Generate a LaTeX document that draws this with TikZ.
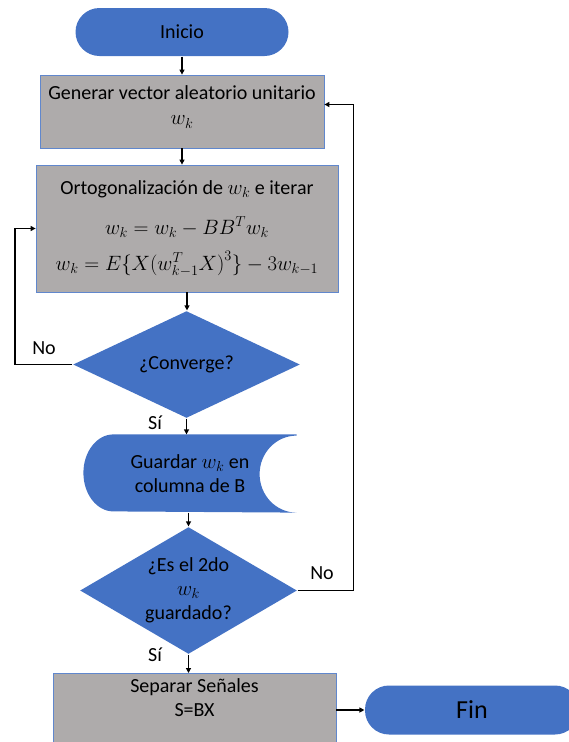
\documentclass[tikz,border=0pt]{standalone}
\usepackage{fontspec}
\setmainfont{Carlito}
\usetikzlibrary{arrows.meta, positioning, shapes.geometric, backgrounds}

\definecolor{ofblue}{RGB}{68,114,196}
\definecolor{ofgray}{RGB}{174,171,171}

\begin{document}
\begin{tikzpicture}[
    x=1pt, y=1pt,
    >={Triangle[length=5pt,width=5pt]}, line width=1.2pt,
    every node/.style={font=\fontsize{20}{24}\selectfont, text=black},
    term/.style={rectangle, rounded corners=24pt, fill=ofblue, minimum width=213pt, minimum height=48pt},
    proc/.style={rectangle, draw=ofblue!85, line width=0.8pt, fill=ofgray, align=center, inner sep=0pt},
    dec/.style={diamond, fill=ofblue, align=center, inner sep=0pt},
    stored/.style={rectangle, align=center, inner sep=0pt, minimum width=212pt, minimum height=77pt}
]
\useasboundingbox (0,0) rectangle (569,-742);
\clip (0,0) rectangle (569,-742);

\node [term] (inicio) at (182,-32) {Inicio};
\node [proc, minimum width=284pt, minimum height=73pt, text depth=12pt] (gen) at (182,-111.5)
    {Generar vector aleatorio unitario\\[1pt]$w_k$};
\node [proc, minimum width=302pt, minimum height=127pt] (orto) at (187,-228.5)
    {Ortogonalización de $w_k$ e iterar\\[16pt]
     $w_k = w_k - BB^Tw_k$\\[12pt]
     $w_k = E\Bigl\{X\bigl(w_{k-1}^TX\bigr)^3\Bigr\} - 3w_{k-1}$};
\node [dec, aspect=2.1, minimum width=227pt, minimum height=107pt] (conv) at (186.5,-364.5) {¿Converge?};
\node [stored] (guardar) at (190,-473.5) {Guardar $w_k$ en\\columna de B};
\node [dec, aspect=1.7, minimum width=217pt, minimum height=127pt] (segundo) at (188.5,-590.5)
    {¿Es el 2do\\$w_k$\\guardado?};
\node [proc, minimum width=283pt, anchor=north, inner ysep=5pt, text depth=60pt] (separar) at (194.5,-673)
    {Separar Señales\\S=BX};
\node [term, minimum width=214pt, minimum height=49pt, font=\fontsize{26}{30}\selectfont] (fin) at (472,-710) {Fin};

% stored data shape behind its text
\begin{scope}[on background layer]
\fill [ofblue] (guardar.north east) -- ([xshift=30pt]guardar.north west)
    arc [start angle=90, end angle=270, x radius=30pt, y radius=38.5pt]
    -- (guardar.south east)
    arc [start angle=270, end angle=90, x radius=37pt, y radius=38.5pt] -- cycle;
\end{scope}

\draw [->] (inicio) -- (gen);
\draw [->] (gen) -- (gen.south |- orto.north);
\draw [->] (orto.south) -- (orto.south |- conv.north);
\draw [->] (conv.south) -- (conv.south |- guardar.north);
\draw [->] (segundo.north |- guardar.south) -- (segundo.north);
\draw [->] (segundo.south) -- (segundo.south |- separar.north);
\draw [->] (separar.east |- fin.west) -- (fin.west);

% loops back
\draw [->] (conv.west) -- ++(-57.5,0) |- (orto.west);
\draw [->] (segundo.east) -- ++(56,0) |- ([yshift=7pt]gen.east);

\node (no1) at (44,-348) {No};
\node (si1) at (155,-423) {Sí};
\node (no2) at (322,-573) {No};
\node (si2) at (155,-655) {Sí};

\end{tikzpicture}
\end{document}
